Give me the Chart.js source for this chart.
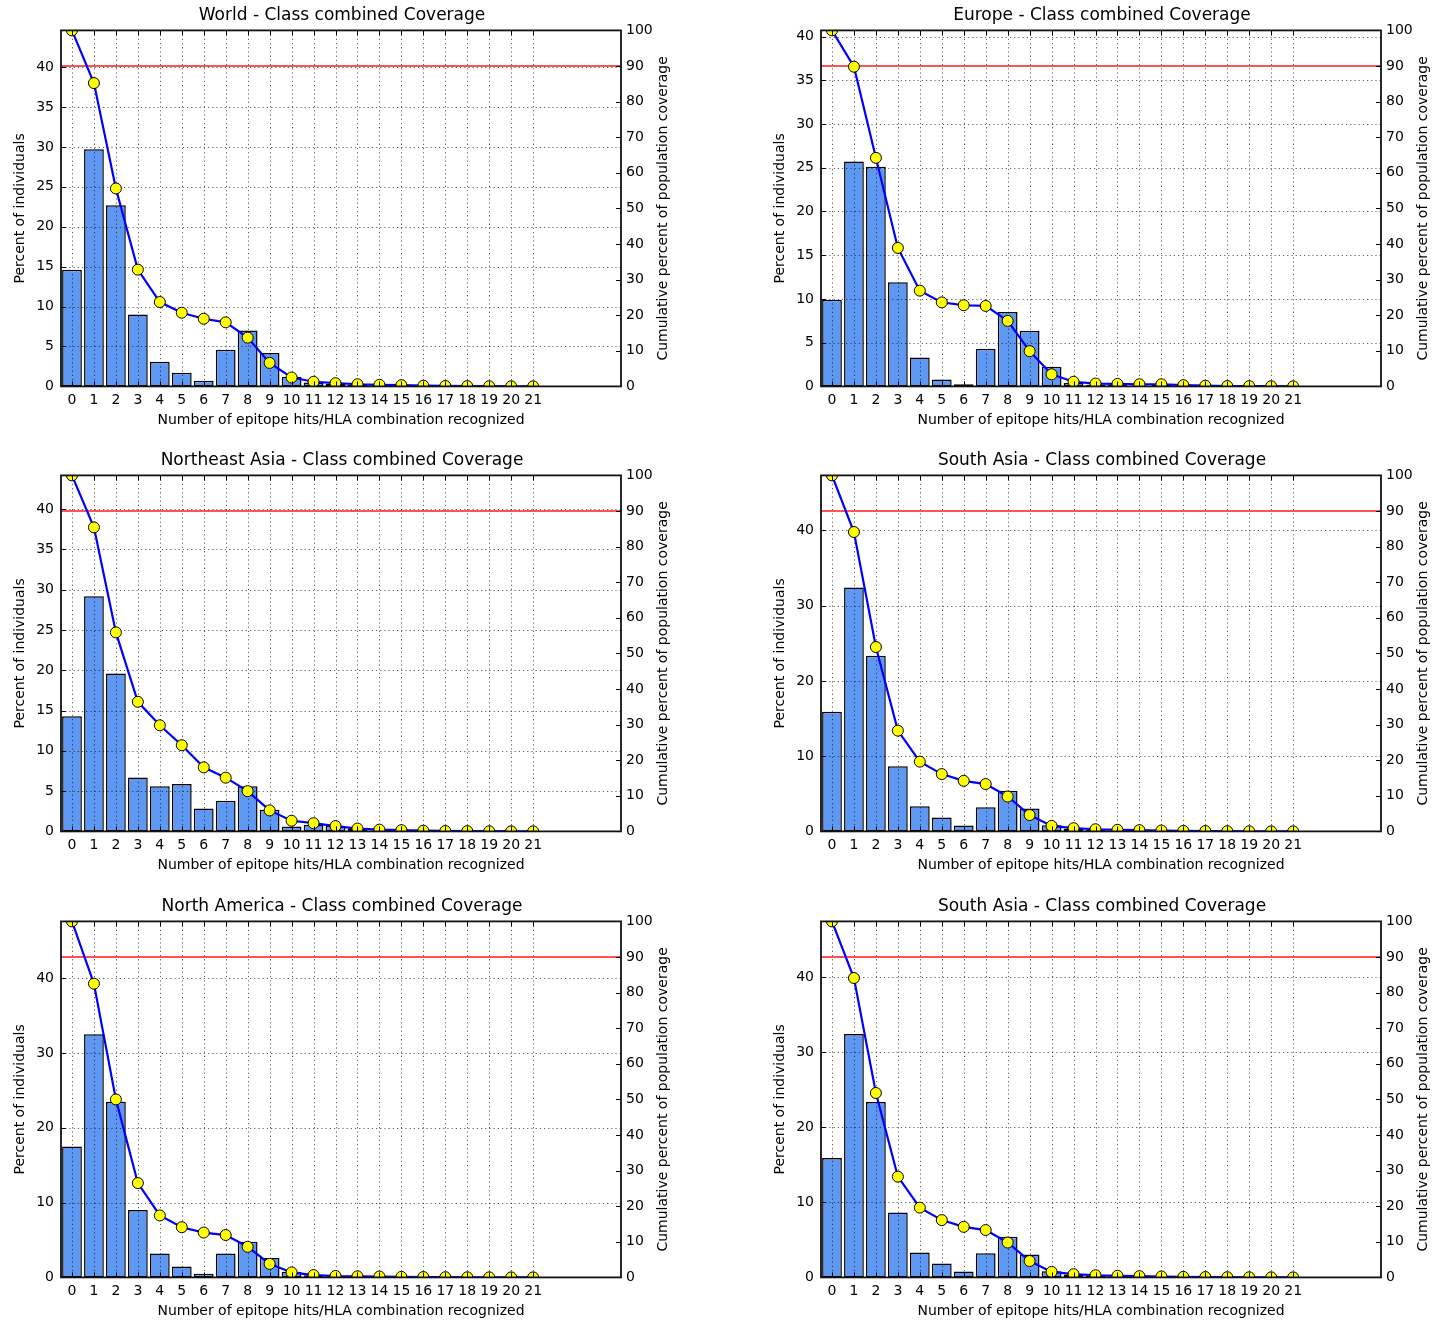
<!DOCTYPE html>
<html>
<head>
<meta charset="utf-8">
<script src="https://cdn.jsdelivr.net/npm/chart.js@4.4.1/dist/chart.umd.min.js"></script>
<style>
  html, body { margin: 0; padding: 0; background: #ffffff; width: 1446px; height: 1321px; overflow: hidden; }
  canvas { position: absolute; }
</style>
</head>
<body>
<canvas id="c0" width="684" height="440" style="left:0px;top:0px"></canvas>
<canvas id="c1" width="684" height="440" style="left:760px;top:0px"></canvas>
<canvas id="c2" width="684" height="440" style="left:0px;top:445px"></canvas>
<canvas id="c3" width="684" height="440" style="left:760px;top:445px"></canvas>
<canvas id="c4" width="684" height="440" style="left:0px;top:891px"></canvas>
<canvas id="c5" width="684" height="440" style="left:760px;top:891px"></canvas>
<script>
// ---------------- DATA ----------------
const hits = [0,1,2,3,4,5,6,7,8,9,10,11,12,13,14,15,16,17,18,19,20,21];
const rightTicks = [0,10,20,30,40,50,60,70,80,90,100];
const ticksStep5 = [0,5,10,15,20,25,30,35,40];
const ticksStep10 = [0,10,20,30,40];
const threshold = 90;

const worldPct = [14.6,29.7,22.7,9.0,3.1,1.7,0.7,4.6,7.0,4.2,1.2,0.5,0.3,0.2,0.1,0.1,0.05,0.03,0.02,0.01,0.01,0.01];
const worldCum = [100,85.2,55.6,32.8,23.7,20.7,19.0,18.0,13.7,6.6,2.5,1.3,0.9,0.6,0.45,0.35,0.2,0.12,0.08,0.05,0.03,0.02];

const europePct = [9.9,25.7,25.1,11.9,3.3,0.8,0.25,4.3,8.5,6.35,2.25,0.4,0.2,0.15,0.1,0.2,0.05,0.03,0.02,0.01,0.01,0.01];
const europeCum = [100,89.8,64.2,38.9,26.9,23.6,22.8,22.6,18.4,9.9,3.4,1.3,0.8,0.7,0.6,0.6,0.35,0.2,0.1,0.08,0.05,0.03];

const neAsiaPct = [14.3,29.2,19.6,6.7,5.6,5.9,2.85,3.8,5.6,2.7,0.6,0.8,0.7,0.3,0.1,0.05,0.03,0.02,0.01,0.01,0.01,0.01];
const neAsiaCum = [100,85.4,55.9,36.4,29.8,24.2,18.0,15.1,11.3,5.9,3.0,2.3,1.5,0.8,0.5,0.35,0.2,0.12,0.08,0.05,0.03,0.02];

const southAsiaPct = [15.9,32.4,23.35,8.65,3.33,1.85,0.8,3.2,5.4,3.05,0.82,0.4,0.2,0.1,0.05,0.04,0.03,0.02,0.01,0.01,0.01,0.01];
const southAsiaCum = [100,84.1,51.8,28.3,19.6,16.1,14.2,13.3,9.8,4.6,1.55,0.9,0.6,0.45,0.35,0.25,0.15,0.1,0.06,0.04,0.02,0.01];

const nAmericaPct = [17.5,32.5,23.5,9.0,3.2,1.45,0.5,3.2,4.75,2.6,0.75,0.3,0.15,0.05,0.05,0.03,0.02,0.01,0.01,0.01,0.01,0.01];
const nAmericaCum = [100,82.5,50.0,26.5,17.4,14.1,12.6,11.9,8.6,3.8,1.4,0.65,0.4,0.3,0.25,0.15,0.1,0.06,0.04,0.02,0.01,0.01];

const titles = [
  'World - Class combined Coverage',
  'Europe - Class combined Coverage',
  'Northeast Asia - Class combined Coverage',
  'South Asia - Class combined Coverage',
  'North America - Class combined Coverage',
  'South Asia - Class combined Coverage'
];
const leftMaxes = [44.6, 40.7, 44.2, 47.3, 47.6, 47.4];
const xTitle = 'Number of epitope hits/HLA combination recognized';
const yTitle = 'Percent of individuals';
const y1Title = 'Cumulative percent of population coverage';

// ---------------- STYLE ----------------
const FAMILY = "'DejaVu Sans', 'Liberation Sans', sans-serif";
const BAR_COLOR = '#5e98f2';
Chart.defaults.font.family = FAMILY;
Chart.defaults.color = '#000';

const decor = {
  id: 'decor',
  afterDatasetDraw(chart, args) {
    if (args.index !== 0) return;
    const {ctx, chartArea: a, scales: {x, y, y1}} = chart;
    ctx.save();
    ctx.strokeStyle = 'rgba(0,0,0,0.62)';
    ctx.lineWidth = 1;
    ctx.setLineDash([1.2, 3]);
    ctx.beginPath();
    x.ticks.forEach(t => {
      const px = Math.round(x.getPixelForValue(t.value)) + 0.5;
      ctx.moveTo(px, a.top); ctx.lineTo(px, a.bottom);
    });
    y.ticks.forEach(t => {
      if (t.value <= 0) return;
      const py = Math.round(y.getPixelForValue(t.value)) + 0.5;
      ctx.moveTo(a.left, py); ctx.lineTo(a.right, py);
    });
    ctx.stroke();
    ctx.setLineDash([]);
    ctx.strokeStyle = '#ff1a1a';
    ctx.lineWidth = 1.7;
    const ty = y1.getPixelForValue(threshold);
    ctx.beginPath(); ctx.moveTo(a.left, ty); ctx.lineTo(a.right, ty); ctx.stroke();
    ctx.restore();
  },
  afterDraw(chart) {
    const {ctx, chartArea: a, scales: {x, y, y1}} = chart;
    ctx.save();
    // inward tick marks
    ctx.strokeStyle = '#000';
    ctx.lineWidth = 1;
    const L = 5;
    ctx.beginPath();
    x.ticks.forEach(t => {
      const px = Math.round(x.getPixelForValue(t.value)) + 0.5;
      ctx.moveTo(px, a.bottom); ctx.lineTo(px, a.bottom - L);
      ctx.moveTo(px, a.top); ctx.lineTo(px, a.top + L);
    });
    y.ticks.forEach(t => {
      const py = Math.round(y.getPixelForValue(t.value)) + 0.5;
      ctx.moveTo(a.left, py); ctx.lineTo(a.left + L, py);
    });
    y1.ticks.forEach(t => {
      const py = Math.round(y1.getPixelForValue(t.value)) + 0.5;
      ctx.moveTo(a.right, py); ctx.lineTo(a.right - L, py);
    });
    ctx.stroke();
    // frame
    ctx.strokeStyle = '#111';
    ctx.lineWidth = 1.8;
    ctx.strokeRect(a.left, a.top, a.right - a.left, a.bottom - a.top);
    // right axis title (reads bottom to top)
    ctx.fillStyle = '#000';
    ctx.font = '14px ' + FAMILY;
    ctx.textAlign = 'center';
    ctx.textBaseline = 'middle';
    ctx.translate(a.right + 42.5, (a.top + a.bottom) / 2);
    ctx.rotate(-Math.PI / 2);
    ctx.fillText(y1Title, 0, 0);
    ctx.restore();
  }
};

function makeChart(id, title, pct, cum, leftMax, leftTicks) {
  return new Chart(document.getElementById(id), {
    data: {
      datasets: [
        {
          type: 'bar',
          label: yTitle,
          data: hits.map((h, i) => ({x: h, y: pct[i]})),
          yAxisID: 'y',
          backgroundColor: BAR_COLOR,
          borderColor: '#000',
          borderWidth: 1.5,
          borderSkipped: false,
          barPercentage: 0.9,
          categoryPercentage: 1,
          order: 2
        },
        {
          type: 'line',
          label: y1Title,
          data: hits.map((h, i) => ({x: h, y: cum[i]})),
          yAxisID: 'y1',
          borderColor: '#0000ff',
          borderWidth: 2.2,
          tension: 0,
          pointRadius: 5.5,
          pointBackgroundColor: '#ffff00',
          pointBorderColor: '#000',
          pointBorderWidth: 1,
          clip: 0,
          order: 1
        }
      ]
    },
    options: {
      responsive: false,
      animation: false,
      devicePixelRatio: 1,
      layout: {padding: 0},
      plugins: {
        legend: {display: false},
        tooltip: {enabled: false},
        title: {
          display: true, text: title, color: '#000',
          font: {family: FAMILY, size: 17, weight: 'normal'},
          padding: {top: 5, bottom: 5}
        }
      },
      scales: {
        x: {
          type: 'linear', position: 'bottom', min: -0.5, max: 25, offset: false,
          afterBuildTicks: s => { s.ticks = hits.map(v => ({value: v})); },
          ticks: {autoSkip: false, maxRotation: 0, minRotation: 0, padding: 6, color: '#000', font: {size: 14}},
          grid: {display: false, drawTicks: false, offset: false},
          border: {display: false},
          title: {display: true, text: xTitle, color: '#000', font: {size: 14}, padding: {top: 0, bottom: 11.6}},
          afterFit: s => { s.height = 53.6; }
        },
        y: {
          type: 'linear', position: 'left', min: 0, max: leftMax,
          afterBuildTicks: s => { s.ticks = leftTicks.map(v => ({value: v})); },
          ticks: {padding: 7, color: '#000', font: {size: 14}},
          grid: {display: false, drawTicks: false},
          border: {display: false},
          title: {display: true, text: yTitle, color: '#000', font: {size: 14}, padding: {top: 11.6, bottom: 0}},
          afterFit: s => { s.width = 61; }
        },
        y1: {
          type: 'linear', position: 'right', min: 0, max: 100,
          afterBuildTicks: s => { s.ticks = rightTicks.map(v => ({value: v})); },
          ticks: {padding: 5, color: '#000', font: {size: 14}},
          grid: {display: false, drawTicks: false},
          border: {display: false},
          afterFit: s => { s.width = 63; }
        }
      }
    },
    plugins: [decor]
  });
}

makeChart('c0', titles[0], worldPct, worldCum, leftMaxes[0], ticksStep5);
makeChart('c1', titles[1], europePct, europeCum, leftMaxes[1], ticksStep5);
makeChart('c2', titles[2], neAsiaPct, neAsiaCum, leftMaxes[2], ticksStep5);
makeChart('c3', titles[3], southAsiaPct, southAsiaCum, leftMaxes[3], ticksStep10);
makeChart('c4', titles[4], nAmericaPct, nAmericaCum, leftMaxes[4], ticksStep10);
makeChart('c5', titles[5], southAsiaPct, southAsiaCum, leftMaxes[5], ticksStep10);
</script>
</body>
</html>
